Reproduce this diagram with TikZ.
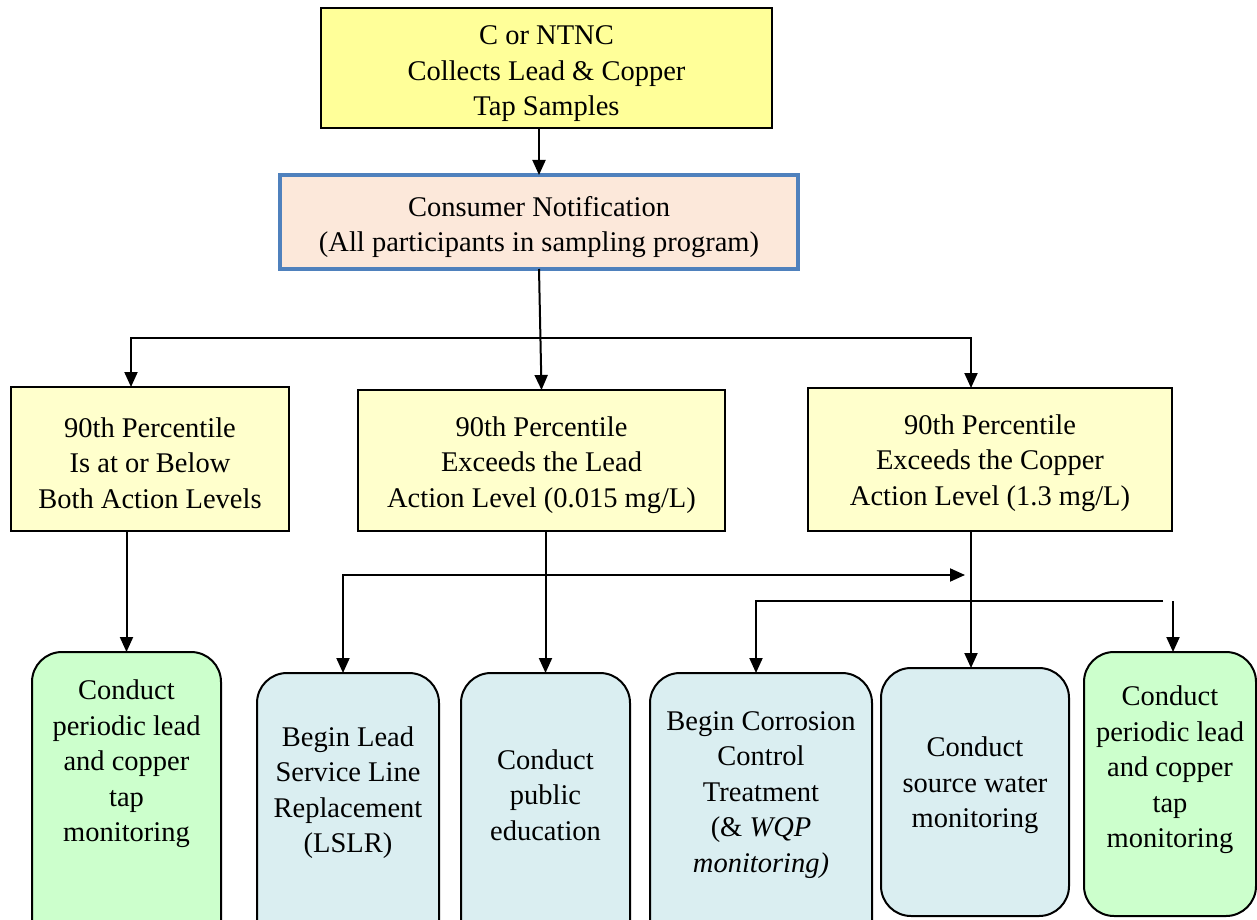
\documentclass[tikz,border=0pt]{standalone}
\usepackage{fontspec}
\setmainfont{Liberation Serif}
\usetikzlibrary{arrows.meta}
\definecolor{topfill}{HTML}{FFFF99}
\definecolor{notefill}{HTML}{FCE8DA}
\definecolor{noteline}{HTML}{4F81BD}
\definecolor{levelfill}{HTML}{FFFFCC}
\definecolor{greenfill}{HTML}{CCFFCC}
\definecolor{bluefill}{HTML}{DAEEF1}
\begin{document}
\begin{tikzpicture}[x=1pt,y=-1pt,
  every node/.style={font=\fontsize{28.5}{35.5}\selectfont, align=center, inner sep=0pt, outer sep=0pt},
  sqbox/.style={draw=black, line width=2pt},
  rbox/.style={draw=black, line width=2pt, rounded corners=30pt},
  arr/.style={line width=2pt, -{Triangle[length=15pt,width=13pt]}},
  arr2/.style={line width=2pt, {Triangle[length=15pt,width=13pt]}-{Triangle[length=15pt,width=13pt]}}]
\path[use as bounding box] (0,0) rectangle (1257,920);
\clip (0,0) rectangle (1257,920);

% top of the chain
\node[sqbox, fill=topfill, minimum width=451, minimum height=120] (top) at (546.5,68) {};
\node (topT) at (546.5,74) {C or NTNC\\Collects Lead \& Copper\\Tap Samples};
\node[draw=noteline, line width=4pt, fill=notefill, minimum width=518, minimum height=94] (note) at (539,222) {};
\node (noteT) at (539,227) {Consumer Notification\\(All participants in sampling program)};

% the three outcomes
\node[sqbox, fill=levelfill, minimum width=278, minimum height=144] (lvA) at (150,459) {};
\node (lvAT) at (150,463) {90th Percentile\\Is at or Below\\Both Action Levels};
\node[sqbox, fill=levelfill, minimum width=367, minimum height=141] (lvB) at (541.5,460.5) {};
\node (lvBT) at (541.5,465) {90th Percentile\\Exceeds the Lead\\Action Level (0.015 mg/L)};
\node[sqbox, fill=levelfill, minimum width=364, minimum height=143] (lvC) at (990,459.5) {};
\node (lvCT) at (990,463) {90th Percentile\\Exceeds the Copper\\Action Level (1.3 mg/L)};

% required actions (boxes run past the lower edge)
\node[rbox, fill=greenfill, minimum width=189, minimum height=320, anchor=north] (tapA) at (126.5,652) {};
\node[rbox, fill=bluefill, minimum width=182, minimum height=300, anchor=north] (lslr) at (348,673) {};
\node[rbox, fill=bluefill, minimum width=169, minimum height=300, anchor=north] (edu) at (545.5,673) {};
\node[rbox, fill=bluefill, minimum width=222, minimum height=300, anchor=north] (cct) at (761,673) {};
\node[rbox, fill=bluefill, minimum width=188, minimum height=248, anchor=north] (src) at (975,668) {};
\node[rbox, fill=greenfill, minimum width=172, minimum height=264, anchor=north] (tapB) at (1170,652) {};

\node (tapAT) at (126.5,764) {Conduct\\periodic lead\\and copper\\tap\\monitoring};
\node (lslrT) at (348,792.5) {Begin Lead\\Service Line\\Replacement\\(LSLR)};
\node (eduT) at (545.5,795) {Conduct\\public\\education};
\node (cctT) at (761,795) {Begin Corrosion\\Control\\Treatment\\(\& \textit{WQP}\\\textit{monitoring)}};
\node (srcT) at (975,785.5) {Conduct\\source water\\monitoring};
\node (tapBT) at (1170,770) {Conduct\\periodic lead\\and copper\\tap\\monitoring};

% connectors
\coordinate (busL) at (131,338);
\coordinate (busR) at (971,338);
\coordinate (leadL) at (343,575);
\coordinate (leadR) at (965,575);
\coordinate (cuL) at (756,601);
\coordinate (cuR) at (1163,601);
\coordinate (cuB) at (1173,601);

\draw[arr] (top.south -| note.north) -- (note.north);
\draw[arr] (note.south) -- (lvB.north);
\draw[arr2] (lvA.north -| busL) -- (busL) -- (busR) -- (lvC.north -| busR);

\draw[arr] (lvA.south -| tapA.north) -- (tapA.north);
\draw[arr] (lvB.south -| edu.north) -- (edu.north);
\draw[arr2] (leadR) -- (leadL) -- (lslr.north -| leadL);

\draw[arr] (lvC.south -| busR) -- (src.north -| busR);
\draw[arr] (cuR) -- (cuL) -- (cct.north -| cuL);
\draw[arr] (cuB) -- (tapB.north -| cuB);
\end{tikzpicture}
\end{document}
